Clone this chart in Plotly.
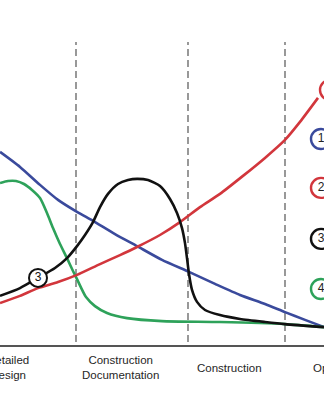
import plotly.graph_objects as go

# Chart units: x = project time (arbitrary units), y = effort / cost (arbitrary units)
blue_x = [0, 1, 2, 2.9, 3.85, 4.65, 5.75, 6.85, 8.1, 9.45, 10.75, 12, 13.25, 14.25, 15.25, 16.2]
blue_y = [64.7, 59.7, 53.7, 48.7, 44.7, 41.7, 37.3, 33.3, 28.7, 24.7, 20.7, 17, 14, 11.3, 8.7, 6.3]

red_x = [0, 1, 1.9, 2.9, 3.85, 5, 6, 6.85, 8, 9, 10, 11, 12.15, 13.25, 14.25, 15, 15.9]
red_y = [14.3, 16.7, 19.3, 21.3, 23.7, 27.3, 30.3, 33, 37, 41.3, 46.3, 50.7, 56.7, 62.7, 68.7, 74.7, 82.7]

black_x = [0, 1, 1.9, 2.75, 3.35, 3.85, 4.25, 4.65, 5, 5.4, 5.9, 6.4, 6.85, 7.4, 8, 8.5, 8.85,
           9.1, 9.25, 9.35, 9.45, 9.6, 9.85, 10.25, 11, 12, 13.25, 14.25, 16.2]
black_y = [16.7, 19.3, 22.7, 26, 29.3, 33.3, 37, 41.3, 46.3, 50.7, 54, 55.3, 55.7, 55.3, 53.3,
           49, 44.3, 39.3, 34.3, 29.3, 24, 18.7, 14.7, 12, 10.3, 9, 8, 7.3, 6.3]

green_x = [0, 0.4, 0.8, 1.2, 1.6, 2, 2.35, 2.65, 3, 3.35, 3.65, 3.85, 4.3, 4.75, 5.35, 6.35,
           8.1, 11, 14.25, 16.2]
green_y = [54.3, 55, 55, 54, 52, 49.3, 44.3, 39.3, 34, 29.3, 25, 22.3, 16.3, 13.3, 11, 9.3,
           8.3, 8, 7.3, 6.3]

phase_bounds = [3.8, 9.4, 14.25]
phase_labels = ["Detailed<br>Design", "Construction<br>Documentation", "Construction", "Operation"]
phase_label_x = [0.4, 6.0, 11.45, 15.55]

legend_nums = ["1", "2", "3", "4"]
legend_colors = ["#3a4a9c", "#d2363c", "#111111", "#2ea25a"]
legend_y = [69, 52.7, 35.7, 19]

BLUE, RED, BLACK, GREEN = "#3a4a9c", "#d2363c", "#111111", "#2ea25a"

fig = go.Figure()
lw = 2.6
for xs, ys, c in [(blue_x, blue_y, BLUE), (green_x, green_y, GREEN),
                  (red_x, red_y, RED), (black_x, black_y, BLACK)]:
    fig.add_trace(go.Scatter(x=xs, y=ys, mode="lines",
                             line=dict(color=c, width=lw, shape="spline", smoothing=0.6),
                             hoverinfo="skip", showlegend=False))

# circled label 3 on black curve
fig.add_trace(go.Scatter(x=[1.9], y=[22.7], mode="markers+text", text=["3"],
                         textposition="middle center",
                         textfont=dict(family="Liberation Sans", size=12, color="#111"),
                         marker=dict(size=18, color="white", line=dict(color=BLACK, width=2)),
                         showlegend=False, hoverinfo="skip"))

# right-side circled numbers (partly cut by the right edge)
fig.add_trace(go.Scatter(x=[16.05] * 4, y=legend_y, mode="markers+text", text=legend_nums,
                         textposition="middle center",
                         textfont=dict(family="Liberation Sans", size=12, color="#222"),
                         marker=dict(size=20, color="white",
                                     line=dict(color=legend_colors, width=2.4)),
                         showlegend=False, hoverinfo="skip"))

# red end circle at the top of the red curve (mostly off the right edge)
fig.add_shape(type="circle", x0=16.0, x1=17.0, y0=82.0, y1=88.7, xref="x", yref="y",
              line=dict(color=RED, width=2.4), fillcolor="white")

for b in phase_bounds:
    fig.add_shape(type="line", x0=b, x1=b, y0=1.3, y1=101.3, xref="x", yref="y",
                  line=dict(color="#555", width=1.2, dash="7px,4px"), layer="below")

fig.add_shape(type="line", x0=0, x1=16.2, y0=0, y1=0, xref="x", yref="y",
              line=dict(color="#555", width=2))

for i, (lab, lx) in enumerate(zip(phase_labels, phase_label_x)):
    fig.add_annotation(x=lx, y=-7.3, xref="x", yref="y", text=lab, showarrow=False,
                       xanchor="left" if i == 3 else "center", yanchor="middle",
                       font=dict(family="Liberation Sans", size=11.5, color="#262626"),
                       align="center")

fig.update_layout(width=324, height=400, margin=dict(l=0, r=0, t=0, b=0),
                  paper_bgcolor="white", plot_bgcolor="white",
                  xaxis=dict(range=[0, 16.2], visible=False, fixedrange=True),
                  yaxis=dict(range=[-18, 115.33], visible=False, fixedrange=True))
fig.write_html("out.html")
